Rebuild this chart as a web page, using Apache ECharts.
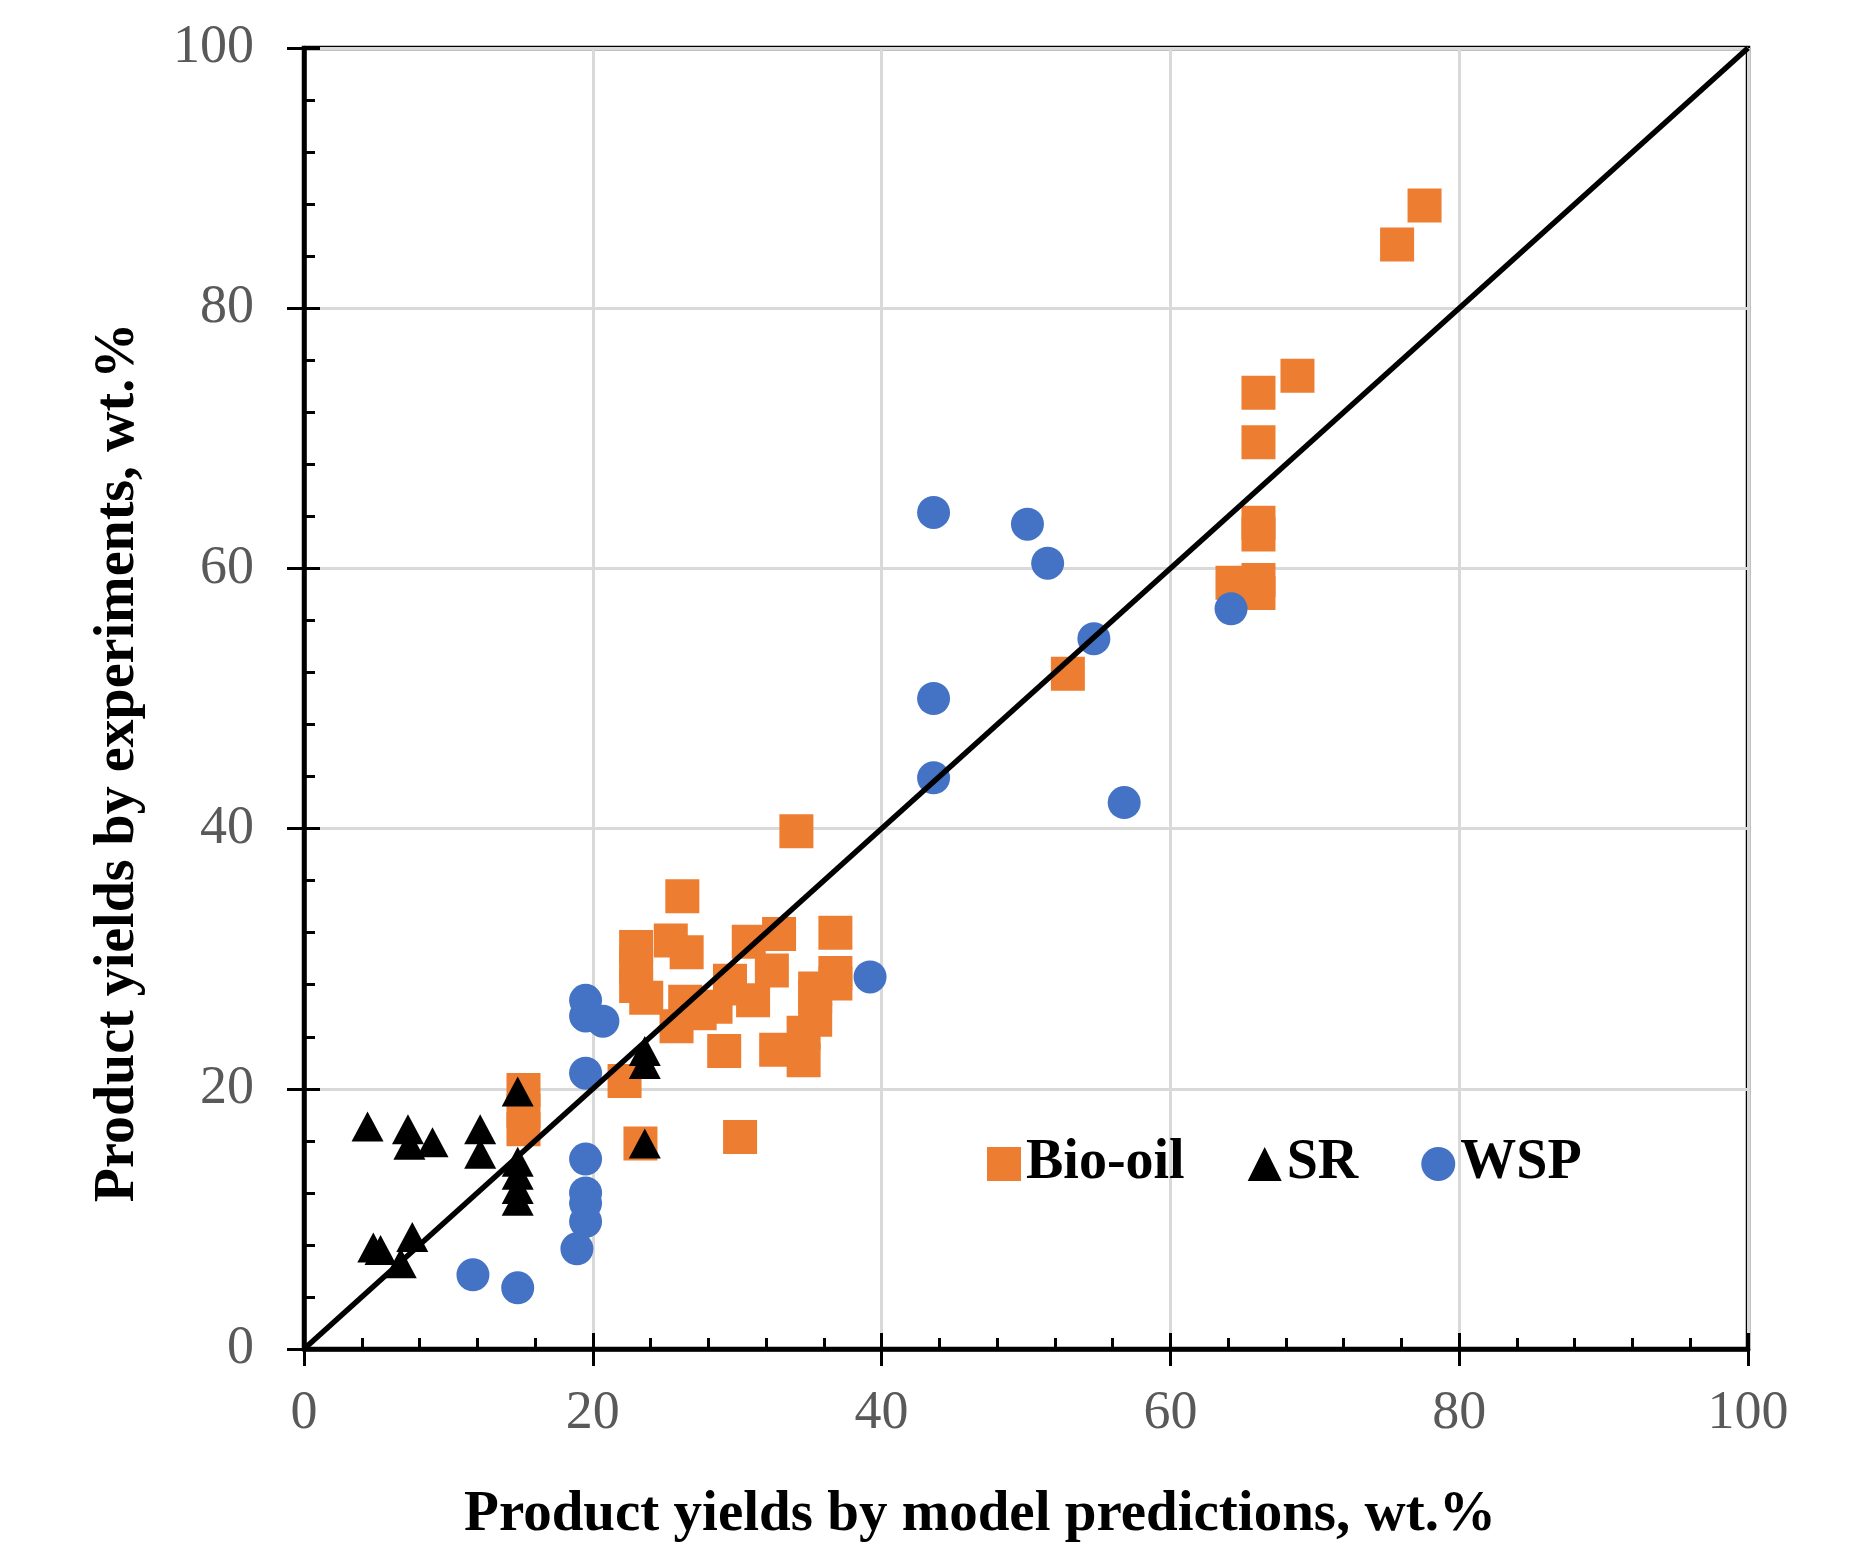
<!DOCTYPE html>
<html>
<head>
<meta charset="utf-8">
<script src="https://cdn.jsdelivr.net/npm/echarts@6/dist/echarts.min.js"></script>
<style>
  html, body { margin: 0; padding: 0; background: #fff; }
  #chart { width: 1864px; height: 1549px; }
</style>
</head>
<body>
<div id="chart"></div>
<script>
var bioOil = [
  [15.2, 19.9], [15.2, 18.3], [15.2, 16.9],
  [22.2, 20.6], [23.3, 15.8], [30.2, 16.3],
  [23.0, 30.9], [23.0, 29.4], [23.0, 27.9], [23.7, 27.0],
  [25.4, 31.4], [26.2, 34.8], [26.5, 30.5], [26.4, 26.7], [25.8, 24.8],
  [27.4, 25.8], [28.5, 26.3], [29.5, 27.7], [29.5, 28.3], [29.1, 22.9],
  [31.1, 26.8], [30.8, 31.3], [32.4, 29.1], [32.9, 31.9], [32.7, 23.0],
  [34.1, 39.8], [36.8, 32.0], [36.8, 28.9], [36.8, 28.1], [35.4, 27.7],
  [35.4, 27.1], [35.4, 25.3], [34.6, 24.3], [34.6, 22.2],
  [52.9, 51.9], [64.3, 58.9], [66.1, 59.1], [66.1, 58.1], [66.1, 63.5],
  [66.1, 62.6], [66.1, 69.7], [66.1, 73.5], [68.8, 74.8], [75.7, 84.9],
  [77.6, 87.9]
];
var sr = [
  [4.4, 17.1], [7.2, 16.9], [7.3, 15.7], [8.9, 15.9], [12.2, 16.9],
  [12.2, 15.0], [14.8, 19.8], [14.8, 14.4], [14.8, 13.4], [14.8, 12.3],
  [14.8, 11.4], [4.8, 7.8], [5.3, 7.6], [7.5, 8.6], [6.7, 6.6],
  [23.6, 22.9], [23.6, 21.9], [23.6, 15.8]
];
var wsp = [
  [19.5, 26.8], [19.5, 25.6], [20.7, 25.2], [19.5, 21.2], [19.5, 14.6],
  [19.5, 12.0], [19.5, 11.2], [19.5, 9.8], [18.9, 7.7], [11.7, 5.7],
  [14.8, 4.7], [39.2, 28.6], [43.6, 64.3], [50.1, 63.4], [51.5, 60.4],
  [54.7, 54.6], [43.6, 50.0], [43.6, 43.9], [56.8, 42.0], [64.2, 56.9]
];
var diagonal = [[0, 0], [100, 100]];
var seriesNames = ['Bio-oil', 'SR', 'WSP'];

var serif = "'Liberation Serif', 'Times New Roman', serif";
var gridBox = { left: 304, top: 48, right: 116, bottom: 200, outerBoundsMode: 'none' };

// grid 0 carries the data, inner ticks and gridlines; grid 1 only draws the outer half of the major ticks + labels
function innerAxis(extra) {
  var a = {
    type: 'value', min: 0, max: 100, interval: 20, gridIndex: 0,
    axisLine: { show: true, onZero: false, lineStyle: { color: '#000', width: 4.5 } },
    axisTick: { show: true, inside: true, length: 16, lineStyle: { color: '#000', width: 3 } },
    minorTick: { show: true, splitNumber: 5, length: 11, lineStyle: { color: '#000', width: 3 } },
    axisLabel: { show: false },
    splitLine: { show: true, lineStyle: { color: '#d9d9d9', width: 3 } }
  };
  for (var k in extra) a[k] = extra[k];
  return a;
}
function outerAxis(extra) {
  var a = {
    type: 'value', min: 0, max: 100, interval: 20, gridIndex: 1,
    axisLine: { show: false },
    axisTick: { show: true, inside: false, length: 17, lineStyle: { color: '#000', width: 3 } },
    axisLabel: { show: true, color: '#595959', fontFamily: serif, fontSize: 54 },
    splitLine: { show: false }
  };
  for (var k in extra) a[k] = extra[k];
  return a;
}

var chart = echarts.init(document.getElementById('chart'));
chart.setOption({
  animation: false,
  backgroundColor: '#fff',
  grid: [
    Object.assign({ show: true, borderColor: '#000', borderWidth: 4.5 }, gridBox),
    Object.assign({}, gridBox)
  ],
  legend: {
    data: seriesNames,
    left: 982,
    top: 1131,
    itemWidth: 34,
    itemHeight: 34,
    itemGap: 63,
    selectedMode: false,
    textStyle: { fontFamily: serif, fontSize: 56, fontWeight: 'bold', color: '#000' }
  },
  xAxis: [
    innerAxis({
      name: 'Product yields by model predictions, wt.%',
      nameLocation: 'middle',
      nameGap: 138,
      nameTextStyle: { fontFamily: serif, fontSize: 57, fontWeight: 'bold', color: '#000', padding: [0, 92, 0, 0] }
    }),
    outerAxis({ axisLabel: { show: true, color: '#595959', fontFamily: serif, fontSize: 54, margin: 38 } })
  ],
  yAxis: [
    innerAxis({
      name: 'Product yields by experiments, wt.%',
      nameLocation: 'middle',
      nameGap: 157,
      nameTextStyle: { fontFamily: serif, fontSize: 56, fontWeight: 'bold', color: '#000', padding: [0, 128, 0, 0] }
    }),
    outerAxis({ axisLabel: { show: true, color: '#595959', fontFamily: serif, fontSize: 54, margin: 50 } })
  ],
  series: [
    {
      name: 'Bio-oil', type: 'scatter', data: bioOil,
      symbol: 'rect', symbolSize: 34,
      itemStyle: { color: '#ED7D31', opacity: 1 }, z: 2
    },
    {
      name: 'SR', type: 'scatter', data: sr,
      symbol: 'triangle', symbolSize: [32, 30],
      itemStyle: { color: '#000', opacity: 1 }, z: 3
    },
    {
      name: 'WSP', type: 'scatter', data: wsp,
      symbol: 'circle', symbolSize: 33,
      itemStyle: { color: '#4472C4', opacity: 1 }, z: 4
    },
    {
      name: 'diagonal', type: 'line', data: diagonal,
      showSymbol: false, symbol: 'none', silent: true,
      lineStyle: { color: '#000', width: 5.5 }, z: 5
    }
  ]
});
</script>
</body>
</html>
